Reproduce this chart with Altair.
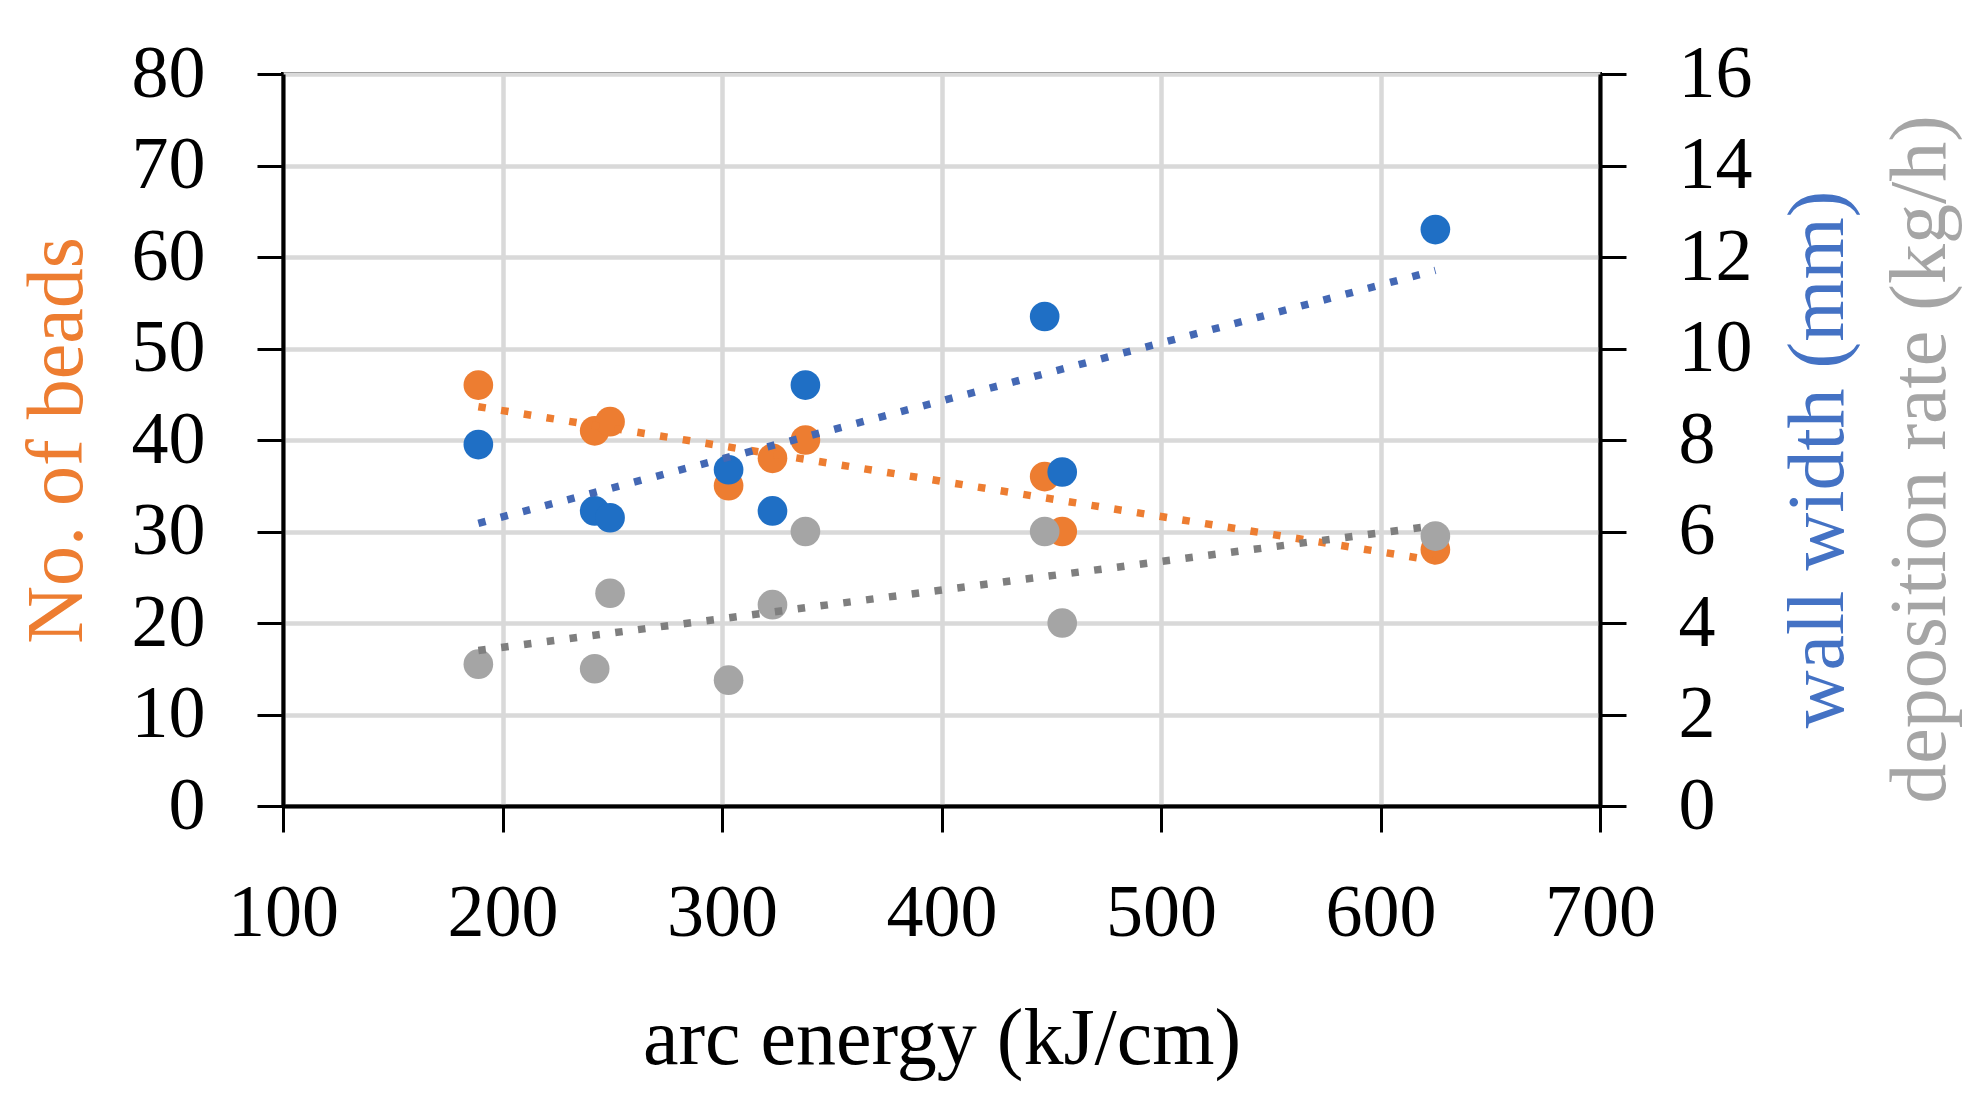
import altair as alt
import pandas as pd

# Measurements per test wall
arc_energy = [189, 242, 249, 303, 323, 338, 447, 455, 625]       # kJ/cm
beads = [46, 41, 42, 35, 38, 40, 36, 30, 28]                      # No. of beads
wall_width = [7.9, 6.45, 6.3, 7.35, 6.45, 9.2, 10.7, 7.3, 12.6]   # mm
deposition = [3.1, 3.0, 4.65, 2.75, 4.4, 6.0, 6.0, 4.0, 5.9]      # kg/h

x_ticks = [100, 200, 300, 400, 500, 600, 700]
left_ticks = [0, 10, 20, 30, 40, 50, 60, 70, 80]
right_ticks = [0, 2, 4, 6, 8, 10, 12, 14, 16]

df = pd.DataFrame({
    "arc_energy": arc_energy,
    "beads": beads,
    "wall_width": wall_width,
    "deposition": deposition,
})

FONT = "Liberation Serif"
W, H = 1317, 732
ORANGE, ORANGE_TREND = "#ED7D31", "#ED7D31"
BLUE, BLUE_TREND, BLUE_TITLE = "#1F6FC5", "#4468B4", "#4472C4"
GRAY, GRAY_TREND, GRAY_TITLE = "#A5A5A5", "#7F7F7F", "#A5A5A5"
POINT_SIZE = 880
DOTS = dict(strokeDash=[7.5, 15.5], strokeWidth=7.5, strokeCap="butt")

x_enc = alt.X(
    "arc_energy:Q",
    scale=alt.Scale(domain=[100, 700], nice=False, zero=False),
    axis=alt.Axis(
        values=x_ticks, title="arc energy (kJ/cm)", grid=True,
        labelBaseline="alphabetic", labelPadding=103,
        titleX=W / 2, titleY=257, titleAlign="center", titleBaseline="alphabetic",
    ),
)

base = alt.Chart(df)


def series(field, color, trend_color, axis, domain):
    y_scale = alt.Scale(domain=domain, nice=False, zero=True)
    pts = base.mark_circle(size=POINT_SIZE, opacity=1, color=color).encode(
        x=x_enc, y=alt.Y(f"{field}:Q", scale=y_scale, axis=axis)
    )
    trend = (
        base.transform_regression("arc_energy", field)
        .mark_line(color=trend_color, **DOTS)
        .encode(x=x_enc, y=alt.Y(f"{field}:Q", scale=y_scale))
    )
    return alt.layer(pts, trend)


left_axis = alt.Axis(
    orient="left", values=left_ticks, grid=True, title="No. of beads",
    titleColor=ORANGE, titleAngle=270, titleX=-226, titleY=H / 2,
    titleAlign="center", titleBaseline="middle",
)
right_axis = alt.Axis(
    orient="right", values=right_ticks, grid=False, title="wall width (mm)",
    titleColor=BLUE_TITLE, titleAngle=270, titleX=218, titleY=385,
    titleAlign="center", titleBaseline="middle",
)
third_axis = alt.Axis(
    orient="right", values=right_ticks, grid=False, labels=False, ticks=False,
    domain=False, title="deposition rate (kg/h)",
    titleColor=GRAY_TITLE, titleAngle=270, titleX=320, titleY=385,
    titleAlign="center", titleBaseline="middle",
)

chart = (
    alt.layer(
        series("beads", ORANGE, ORANGE_TREND, left_axis, [0, 80]),
        series("wall_width", BLUE, BLUE_TREND, right_axis, [0, 16]),
        series("deposition", GRAY, GRAY_TREND, third_axis, [0, 16]),
    )
    .resolve_scale(y="independent")
    .properties(
        width=W,
        height=H,
        autosize=alt.AutoSizeParams(type="none"),
        padding={"left": 283, "top": 74, "right": 382, "bottom": 307},
        background="white",
    )
    .configure_view(stroke="black", strokeWidth=4)
    .configure_axis(
        labelFont=FONT, titleFont=FONT, labelFontSize=74, titleFontSize=80,
        labelColor="black", titleFontWeight="normal",
        domainColor="black", domainWidth=4,
        tickColor="black", tickWidth=3, tickSize=26,
        gridColor="#D9D9D9", gridWidth=4.5,
        labelPadding=52, labelFlush=False, labelOverlap=False,
    )
)

chart.save("out.html", embed_options={"renderer": "svg", "actions": False})
